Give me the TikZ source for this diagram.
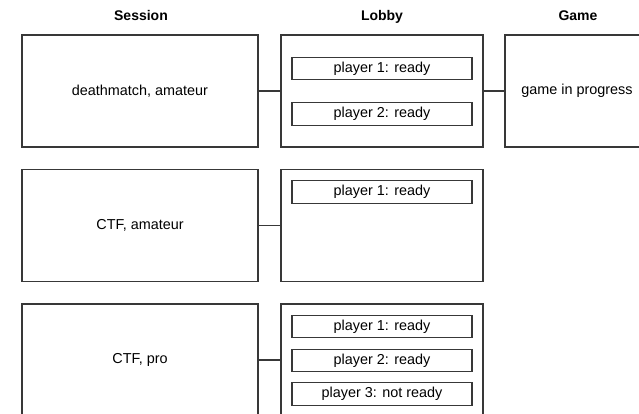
\documentclass[tikz,border=0pt]{standalone}
\usepackage{fontspec}
\setmainfont{Liberation Sans}
\begin{document}
\begin{tikzpicture}[x=1pt,y=-1pt,
  box/.style={draw=black!78, line width=1.1pt, rectangle, inner sep=0pt,
    minimum height=112pt, font=\fontsize{14.4}{16}\selectfont},
  sbox/.style={box, minimum width=236pt},
  lbox/.style={box, minimum width=202pt},
  gbox/.style={box, minimum width=144pt},
  pbox/.style={draw=black!78, line width=1.1pt, rectangle, inner sep=0pt,
    minimum width=180pt, minimum height=22.5pt, text height=10.5pt, text depth=3pt,
    font=\fontsize{14.4}{16}\selectfont},
  head/.style={font=\bfseries\fontsize{14}{16}\selectfont, anchor=base},
  link/.style={draw=black!78, line width=1.1pt}]
\useasboundingbox (0,0) rectangle (639,413);
\clip (0,0) rectangle (639,413);
% headers
\node[head] (hs) at (141,20.5) {Session};
\node[head] (hl) at (382,20.5) {Lobby};
\node[head] (hg) at (578,20.5) {Game};
% row 1
\node[sbox] (s1) at (140,91) {deathmatch, amateur};
\node[lbox] (l1) at (382,91) {};
\node[gbox] (g1) at (577,91) {game in progress};
\node[pbox] (p11) at (382,68.5) {player 1: ready};
\node[pbox] (p12) at (382,114) {player 2: ready};
\draw[link] (s1.east) -- (l1.west);
\draw[link] (l1.east) -- (g1.west);
% row 2
\node[sbox] (s2) at (140,225.5) {CTF, amateur};
\node[lbox] (l2) at (382,225.5) {};
\node[pbox] (p21) at (382,192) {player 1: ready};
\draw[link] (s2.east) -- (l2.west);
% row 3
\node[sbox] (s3) at (140,360) {CTF, pro};
\node[lbox] (l3) at (382,360) {};
\node[pbox] (p31) at (382,326.5) {player 1: ready};
\node[pbox] (p32) at (382,360.5) {player 2: ready};
\node[pbox] (p33) at (382,394) {player 3: not ready};
\draw[link] (s3.east) -- (l3.west);
\end{tikzpicture}
\end{document}
